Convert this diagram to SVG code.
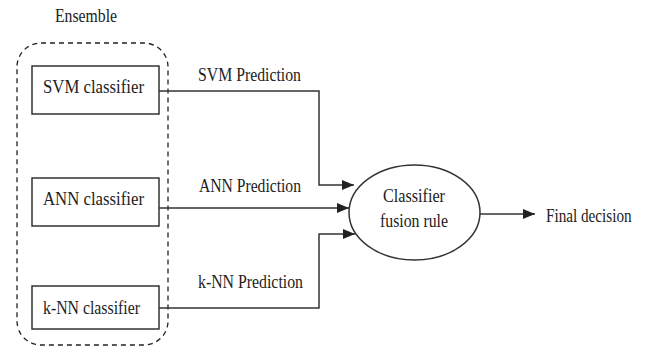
<svg xmlns="http://www.w3.org/2000/svg" width="649" height="348" viewBox="0 0 649 348">
<style>
text{font-family:"Liberation Serif","Times New Roman",serif;font-size:19px;fill:#222}
.box{fill:#fff;stroke:#333;stroke-width:1.5}
.conn{fill:none;stroke:#333;stroke-width:1.5}
.ens{fill:none;stroke:#222;stroke-width:1.3;stroke-dasharray:5,4}
</style>
<defs>
<marker id="arr" viewBox="0 0 12 10" refX="12" refY="5" markerWidth="12" markerHeight="10" markerUnits="userSpaceOnUse" orient="auto">
<path d="M0,0 L12,5 L0,10 Z" fill="#222"/>
</marker>
</defs>
<g id="ensemble">
<rect class="ens" x="17" y="43" width="151" height="302" rx="24" ry="24"/>
<text x="55" y="22" textLength="62" lengthAdjust="spacingAndGlyphs" font-size="17">Ensemble</text>
</g>
<g id="svm">
<rect class="box" x="32" y="66" width="127" height="48"/>
<text x="43" y="93" textLength="101" lengthAdjust="spacingAndGlyphs">SVM  classifier</text>
</g>
<g id="ann">
<rect class="box" x="32" y="178" width="127" height="48"/>
<text x="43" y="205" textLength="101" lengthAdjust="spacingAndGlyphs">ANN  classifier</text>
</g>
<g id="knn">
<rect class="box" x="32" y="286" width="127" height="43"/>
<text x="43" y="314" textLength="97" lengthAdjust="spacingAndGlyphs">k-NN classifier</text>
</g>
<g id="connectors">
<path class="conn" d="M159,91 H319 V185 H354" marker-end="url(#arr)"/>
<path class="conn" d="M159,208 H349" marker-end="url(#arr)"/>
<path class="conn" d="M159,308 H319 V234 H355" marker-end="url(#arr)"/>
<path class="conn" d="M480,214 H535" marker-end="url(#arr)"/>
<text x="198" y="81" textLength="103" lengthAdjust="spacingAndGlyphs">SVM Prediction</text>
<text x="199" y="192" textLength="102" lengthAdjust="spacingAndGlyphs">ANN Prediction</text>
<text x="198" y="288" textLength="105" lengthAdjust="spacingAndGlyphs">k-NN Prediction</text>
</g>
<g id="fusion">
<ellipse class="box" cx="414.5" cy="212.5" rx="65.5" ry="47.5"/>
<text x="383" y="202" textLength="62" lengthAdjust="spacingAndGlyphs">Classifier</text>
<text x="380" y="227" textLength="68" lengthAdjust="spacingAndGlyphs">fusion rule</text>
</g>
<g id="final">
<text transform="translate(546,222) scale(0.8,1)" x="0" y="0" font-size="18">Final decision</text>
</g>
</svg>
